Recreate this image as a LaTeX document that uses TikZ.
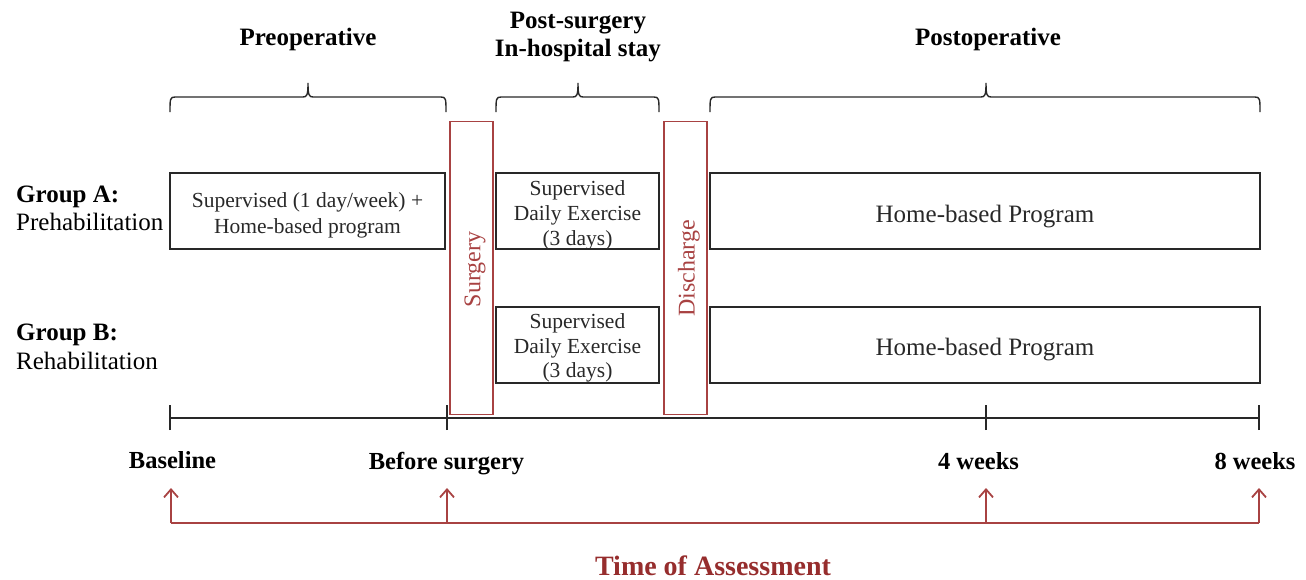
\documentclass[tikz,border=0pt]{standalone}
\usepackage{fontspec}
\setmainfont{Liberation Serif}
\usetikzlibrary{arrows.meta}
\definecolor{darkred}{RGB}{168,66,66}
\definecolor{textred}{RGB}{150,45,45}
\definecolor{ink}{RGB}{40,40,40}
\newcommand\mybrace[3]{%
  \draw[bracesty] (#1,112) .. controls (#1,99) and (#1,97) .. (#1+5,97) -- (#2-5,97)
    .. controls (#2-1,97) and (#2,95) .. (#2,83)
    .. controls (#2,95) and (#2+1,97) .. (#2+5,97) -- (#3-5,97)
    .. controls (#3,97) and (#3,99) .. (#3,112);}
\begin{document}
\begin{tikzpicture}[x=1pt,y=-1pt,
  box/.style={draw=ink,line width=1.4pt,inner sep=0pt,minimum height=76pt},
  redbox/.style={draw=darkred,line width=1.6pt,inner sep=0pt,minimum width=43pt,minimum height=293pt},
  bracesty/.style={draw=ink,line width=1.4pt},
  title/.style={font=\fontsize{25}{28}\selectfont\bfseries,align=center,inner sep=0pt},
  small/.style={font=\fontsize{21.5}{25.5}\selectfont,align=center,inner sep=0pt,text=ink},
  big/.style={font=\fontsize{25}{30}\selectfont,inner sep=0pt,text=ink},
  grp/.style={font=\fontsize{25}{28}\selectfont,align=left,inner sep=0pt,anchor=west},
  redtxt/.style={font=\fontsize{24}{28}\selectfont,text=darkred,rotate=90,inner sep=0pt},
  tl/.style={draw=ink,line width=1.6pt},
  redline/.style={draw=darkred,line width=1.8pt},
  redarrow/.style={redline,-{Straight Barb[length=8pt,width=14pt,line width=1.8pt]}},
  tlabel/.style={font=\fontsize{24.5}{28}\selectfont\bfseries,inner sep=0pt,anchor=base}
]
\useasboundingbox (0,0) rectangle (1306,579);

% titles
\node[title,anchor=base] (t1) at (308,45) {Preoperative};
\node[title] (t2) at (578,37.5) {Post-surgery\\In-hospital stay};
\node[title,anchor=base] (t3) at (988,45) {Postoperative};

% braces
\mybrace{170}{308}{446}
\mybrace{496}{578}{659}
\mybrace{710}{986}{1260}

% red boxes
\node[redbox] (surg) at (471.5,268) {};
\node[redtxt] (surgt) at (475,269.5) {Surgery};
\node[redbox] (disc) at (685.5,268) {};
\node[redtxt] (disct) at (689,268.5) {Discharge};

% group labels
\node[grp] (ga) at (16,208) {\textbf{Group A:}\\[0pt]Prehabilitation};
\node[grp] (gb) at (16,346.5) {\textbf{Group B:}\\[1pt]Rehabilitation};

% group A boxes
\node[box,minimum width=275pt] (a1) at (307.5,211) {};
\node[small] (a1t) at (307.5,215.5) {Supervised (1 day/week) +\\Home-based program};
\node[box,minimum width=163pt] (a2) at (577.5,211) {};
\node[small,font=\fontsize{21.5}{25}\selectfont] (a2t) at (577.5,215) {Supervised\\Daily Exercise\\(3 days)};
\node[box,minimum width=550pt] (a3) at (985,211) {};
\node[big,anchor=base] (a3t) at (985,222) {Home-based Program};

% group B boxes
\node[box,minimum width=163pt] (b2) at (577.5,345) {};
\node[small,font=\fontsize{21.5}{24.5}\selectfont] (b2t) at (577.5,348) {Supervised\\Daily Exercise\\(3 days)};
\node[box,minimum width=550pt] (b3) at (985,345) {};
\node[big,anchor=base] (b3t) at (985,355) {Home-based Program};

% timeline
\coordinate (p1) at (170,418);
\coordinate (p2) at (447,418);
\coordinate (p3) at (986,418);
\coordinate (p4) at (1259,418);
\draw[tl] (p1) -- (p4);
\foreach \p in {p1,p2,p3,p4}{\draw[tl] ([yshift=-12pt]\p) -- ([yshift=13pt]\p);}

% labels
\node[tlabel] (l1) at (172.5,468) {Baseline};
\node[tlabel] (l2) at (446.5,469) {Before surgery};
\node[tlabel] (l3) at (978.5,469) {4 weeks};
\node[tlabel] (l4) at (1255,469) {8 weeks};

% assessment arrows
\coordinate (q1) at (171,523);
\coordinate (q2) at (447,523);
\coordinate (q3) at (986,523);
\coordinate (q4) at (1259,523);
\coordinate (r1) at (171,488);
\coordinate (r2) at (447,488);
\coordinate (r3) at (986,488);
\coordinate (r4) at (1259,488);
\draw[redline] (q1) -- (q4);
\draw[redarrow] (q1) -- (r1);
\draw[redarrow] (q2) -- (r2);
\draw[redarrow] (q3) -- (r3);
\draw[redarrow] (q4) -- (r4);
\node[font=\fontsize{28}{30}\selectfont\bfseries,text=textred,inner sep=0pt,anchor=base] (toa) at (713,575) {Time of Assessment};
\end{tikzpicture}
\end{document}
